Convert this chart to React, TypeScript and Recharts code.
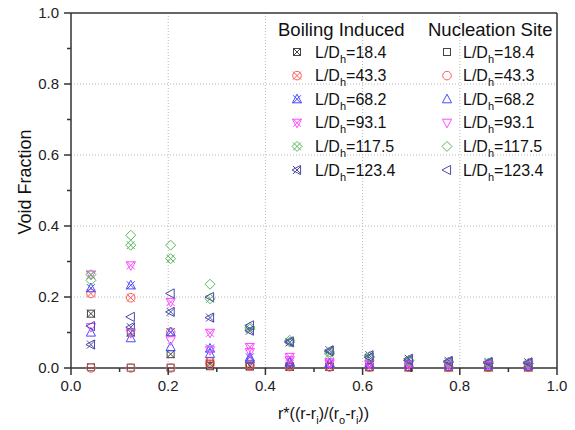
import React from 'react';
import { ScatterChart, Scatter, XAxis, YAxis, ReferenceLine } from 'recharts';

// radial position r* of each measuring point
const R_STAR = [0.041, 0.123, 0.205, 0.286, 0.368, 0.45, 0.532, 0.614, 0.695, 0.777, 0.859, 0.941];

// boiling induced void fraction
const BI_18_4 = [0.153, 0.1, 0.039, 0.012, 0.006, 0.004, 0.003, 0.003, 0.002, 0.002, 0.002, 0.002];
const BI_43_3 = [0.21, 0.198, 0.101, 0.017, 0.01, 0.006, 0.004, 0.003, 0.003, 0.002, 0.002, 0.002];
const BI_68_2 = [0.225, 0.233, 0.101, 0.055, 0.03, 0.017, 0.013, 0.011, 0.01, 0.009, 0.008, 0.008];
const BI_93_1 = [0.263, 0.289, 0.186, 0.099, 0.059, 0.031, 0.016, 0.012, 0.01, 0.009, 0.009, 0.008];
const BI_117_5 = [0.263, 0.346, 0.308, 0.195, 0.11, 0.073, 0.04, 0.03, 0.021, 0.016, 0.013, 0.012];
const BI_123_4 = [0.066, 0.115, 0.158, 0.142, 0.105, 0.072, 0.05, 0.036, 0.026, 0.02, 0.017, 0.016];

// nucleation site void fraction
const NS_18_4 = [0.002, 0.001, 0.001, 0.005, 0.004, 0.003, 0.003, 0.002, 0.002, 0.002, 0.002, 0.002];
const NS_43_3 = [0, 0, 0, 0.01, 0.006, 0.004, 0.003, 0.003, 0.002, 0.002, 0.002, 0.002];
const NS_68_2 = [0.1, 0.084, 0.059, 0.04, 0.025, 0.015, 0.012, 0.01, 0.009, 0.008, 0.008, 0.007];
const NS_93_1 = [0.115, 0.098, 0.078, 0.05, 0.045, 0.022, 0.012, 0.01, 0.009, 0.008, 0.008, 0.008];
const NS_117_5 = [0.247, 0.374, 0.346, 0.236, 0.115, 0.078, 0.045, 0.032, 0.022, 0.017, 0.014, 0.013];
const NS_123_4 = [0.118, 0.144, 0.21, 0.2, 0.12, 0.075, 0.047, 0.03, 0.022, 0.018, 0.015, 0.014];

const LD_LABELS = ['18.4', '43.3', '68.2', '93.1', '117.5', '123.4'];
const TICKS = [0, 0.1, 0.2, 0.3, 0.4, 0.5, 0.6, 0.7, 0.8, 0.9, 1.0];
const GRID = [0.2, 0.4, 0.6, 0.8];

const COLORS = ['#444444', '#ff5a5a', '#4b4bff', '#ff4bff', '#5cb85c', '#4a4aa8'];
const SHAPES = ['square', 'circle', 'triUp', 'triDown', 'diamond', 'triLeft'];

const BI_SERIES = [BI_18_4, BI_43_3, BI_68_2, BI_93_1, BI_117_5, BI_123_4];
const NS_SERIES = [NS_18_4, NS_43_3, NS_68_2, NS_93_1, NS_117_5, NS_123_4];

const AXIS = '#333';
const FONT = '"Liberation Sans", Arial, sans-serif';

function toPoints(values: number[]) {
  return values.map((y, i) => ({ x: R_STAR[i], y }));
}

function Marker({ cx, cy, kind, color, cross }: { cx: number; cy: number; kind: string; color: string; cross: boolean }) {
  let body: React.ReactNode = null;
  const p = { fill: 'none', stroke: color, strokeWidth: 1 };
  if (kind === 'square') body = <rect x={cx - 3.5} y={cy - 3.5} width={7} height={7} {...p} />;
  if (kind === 'circle') body = <circle cx={cx} cy={cy} r={4.3} {...p} />;
  if (kind === 'triUp') body = <polygon points={`${cx},${cy - 5} ${cx + 4.6},${cy + 3.6} ${cx - 4.6},${cy + 3.6}`} {...p} />;
  if (kind === 'triDown') body = <polygon points={`${cx},${cy + 5} ${cx + 4.6},${cy - 3.6} ${cx - 4.6},${cy - 3.6}`} {...p} />;
  if (kind === 'diamond') body = <polygon points={`${cx},${cy - 5} ${cx + 5},${cy} ${cx},${cy + 5} ${cx - 5},${cy}`} {...p} />;
  if (kind === 'triLeft') body = <polygon points={`${cx - 5},${cy} ${cx + 3.6},${cy - 4.6} ${cx + 3.6},${cy + 4.6}`} {...p} />;
  const h = 4;
  return (
    <g>
      {body}
      {cross && (
        <path d={`M${cx - h},${cy - h}L${cx + h},${cy + h}M${cx - h},${cy + h}L${cx + h},${cy - h}`} stroke={color} strokeWidth={1} />
      )}
    </g>
  );
}

const XTick = (props: any) => {
  const { x, y, payload } = props;
  const v = payload.value as number;
  const major = Math.round(v * 10) % 2 === 0;
  return (
    <g>
      <line x1={x} x2={x} y1={y} y2={y + (major ? 7 : 4)} stroke={AXIS} strokeWidth={1.5} />
      {major && (
        <text x={x} y={y + 23} textAnchor="middle" fontSize={15} fill="#222" fontFamily={FONT}>
          {v.toFixed(1)}
        </text>
      )}
    </g>
  );
};

const YTick = (props: any) => {
  const { x, y, payload } = props;
  const v = payload.value as number;
  const major = Math.round(v * 10) % 2 === 0;
  return (
    <g>
      <line x1={x} x2={x - (major ? 7 : 4)} y1={y} y2={y} stroke={AXIS} strokeWidth={1.5} />
      {major && (
        <text x={x - 12} y={y + 5} textAnchor="end" fontSize={15} fill="#222" fontFamily={FONT}>
          {v.toFixed(1)}
        </text>
      )}
    </g>
  );
};

function LegendOverlay() {
  const rows = LD_LABELS.map((lab, i) => ({ lab, y: 52 + i * 23.6 }));
  return (
    <svg width={575} height={430} style={{ position: 'absolute', left: 0, top: 0, pointerEvents: 'none' }}>
      <text x={278} y={36} fontSize={18.5} fill="#111" fontFamily={FONT}>Boiling Induced</text>
      <text x={428} y={36} fontSize={18.5} fill="#111" fontFamily={FONT}>Nucleation Site</text>
      {rows.map((r, i) => (
        <g key={r.lab}>
          <Marker cx={297} cy={r.y} kind={SHAPES[i]} color={COLORS[i]} cross />
          <Marker cx={447} cy={r.y} kind={SHAPES[i]} color={COLORS[i]} cross={false} />
          {[315, 463].map((tx) => (
            <text key={tx} x={tx} y={r.y + 5.5} fontSize={16} fill="#111" fontFamily={FONT}>
              <tspan>L/D</tspan>
              <tspan dy={5} fontSize={11}>h</tspan>
              <tspan dy={-5}>={r.lab}</tspan>
            </text>
          ))}
        </g>
      ))}
    </svg>
  );
}

export default function App() {
  return (
    <div style={{ position: 'absolute', left: 0, top: 0, width: 575, height: 430, background: '#fff' }}>
      <ScatterChart width={575} height={430} margin={{ top: 13, right: 18, bottom: 0, left: 0 }}>
        <XAxis
          type="number"
          dataKey="x"
          domain={[0, 1]}
          ticks={TICKS}
          interval={0}
          height={62}
          tickSize={0}
          tickMargin={0}
          tickLine={false}
          tick={<XTick />}
          axisLine={{ stroke: AXIS, strokeWidth: 1.5 }}
        />
        <YAxis
          type="number"
          dataKey="y"
          domain={[0, 1]}
          ticks={TICKS}
          interval={0}
          width={71}
          tickSize={0}
          tickMargin={0}
          tickLine={false}
          tick={<YTick />}
          axisLine={{ stroke: AXIS, strokeWidth: 1.5 }}
        />
        {GRID.map((g) => (
          <ReferenceLine key={`v${g}`} x={g} stroke="#b8b8b8" strokeDasharray="1 2" />
        ))}
        {GRID.map((g) => (
          <ReferenceLine key={`h${g}`} y={g} stroke="#b8b8b8" strokeDasharray="1 2" />
        ))}
        <ReferenceLine x={1} stroke={AXIS} strokeWidth={1.5} />
        <ReferenceLine y={1} stroke={AXIS} strokeWidth={1.5} />
        {BI_SERIES.map((s, i) => (
          <Scatter
            key={`bi${i}`}
            name={`BI ${LD_LABELS[i]}`}
            data={toPoints(s)}
            isAnimationActive={false}
            shape={(p: any) => <Marker cx={p.cx} cy={p.cy} kind={SHAPES[i]} color={COLORS[i]} cross />}
          />
        ))}
        {NS_SERIES.map((s, i) => (
          <Scatter
            key={`ns${i}`}
            name={`NS ${LD_LABELS[i]}`}
            data={toPoints(s)}
            isAnimationActive={false}
            shape={(p: any) => <Marker cx={p.cx} cy={p.cy} kind={SHAPES[i]} color={COLORS[i]} cross={false} />}
          />
        ))}
      </ScatterChart>
      <svg width={575} height={430} style={{ position: 'absolute', left: 0, top: 0, pointerEvents: 'none' }}>
        <text x={31} y={182} transform="rotate(-90 31 182)" textAnchor="middle" fontSize={18} fill="#111" fontFamily={FONT}>
          Void Fraction
        </text>
        <text x={278} y={419} fontSize={16} fill="#111" fontFamily={FONT}>
          <tspan>r*((r-r</tspan>
          <tspan dy={5} fontSize={11}>i</tspan>
          <tspan dy={-5}>)/(r</tspan>
          <tspan dy={5} fontSize={11}>o</tspan>
          <tspan dy={-5}>-r</tspan>
          <tspan dy={5} fontSize={11}>i</tspan>
          <tspan dy={-5}>))</tspan>
        </text>
      </svg>
      <LegendOverlay />
    </div>
  );
}
